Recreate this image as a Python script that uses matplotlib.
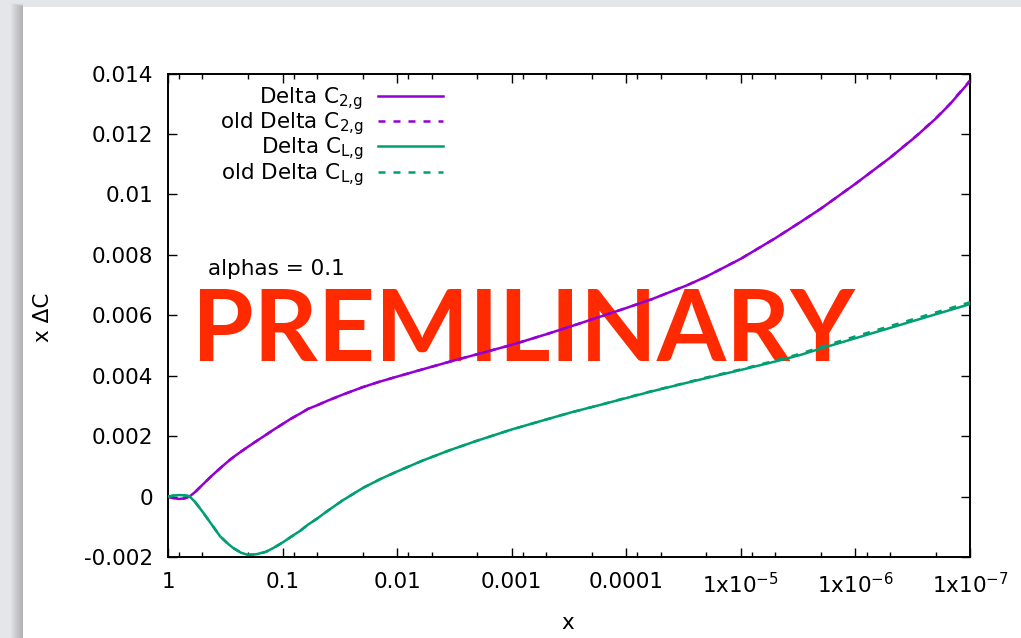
import numpy as np
import matplotlib
matplotlib.use('Agg')
import matplotlib.pyplot as plt
from matplotlib.patches import Rectangle
from matplotlib.ticker import FixedLocator, NullFormatter

# x values (log scale)
x = [1, 0.9, 0.8, 0.72, 0.65, 0.58, 0.5, 0.42, 0.35, 0.3, 0.27, 0.23, 0.2, 0.17, 0.14,
     0.12, 0.1, 0.085, 0.07, 0.06, 0.05, 0.04, 0.03, 0.02, 0.014, 0.01, 0.006, 0.0035,
     0.002, 0.001, 5e-4, 3e-4, 1.7e-4, 1e-4, 6e-5, 3e-5, 2e-5, 1e-5, 5e-6, 3e-6, 2e-6,
     1e-6, 5e-7, 3e-7, 2e-7, 1.5e-7, 1e-7]

dc2 = [0.0, -0.00005, -0.00008, -0.00006, 0.0, 0.00015, 0.00039, 0.00067, 0.00094, 0.00116,
       0.00130, 0.00149, 0.00165, 0.00183, 0.00204, 0.00221, 0.00240, 0.00257, 0.00275,
       0.00290, 0.00302, 0.00318, 0.00337, 0.00362, 0.00381, 0.00397, 0.00421, 0.00446,
       0.00471, 0.00502, 0.00537, 0.00564, 0.00595, 0.00624, 0.00653, 0.00698, 0.00728,
       0.00787, 0.00855, 0.00909, 0.00953, 0.01035, 0.01121, 0.01190, 0.01250, 0.01298, 0.01375]
dc2_old = [0.0, -0.00005, -0.00008, -0.00006, 0.0, 0.00015, 0.00039, 0.00067, 0.00094, 0.00116,
           0.00130, 0.00149, 0.00165, 0.00183, 0.00204, 0.00221, 0.00240, 0.00257, 0.00275,
           0.00290, 0.00302, 0.00318, 0.00337, 0.00362, 0.00381, 0.00397, 0.00421, 0.00446,
           0.00471, 0.00502, 0.00537, 0.00564, 0.00595, 0.00624, 0.00653, 0.00698, 0.00728,
           0.00787, 0.00855, 0.00909, 0.00953, 0.01035, 0.01121, 0.01191, 0.01251, 0.01299, 0.01377]

dcl = [0.0, 0.00003, 0.00005, 0.00004, 0.00001, -0.00018, -0.00050, -0.00090, -0.00132,
       -0.00156, -0.00170, -0.00186, -0.00193, -0.00191, -0.00183, -0.00170, -0.00152,
       -0.00134, -0.00113, -0.00093, -0.00073, -0.00046, -0.00013, 0.00028, 0.00058, 0.00083,
       0.00119, 0.00153, 0.00185, 0.00222, 0.00255, 0.00279, 0.00303, 0.00326, 0.00348,
       0.00376, 0.00392, 0.00419, 0.00447, 0.00469, 0.00490, 0.00524, 0.00558, 0.00583,
       0.00603, 0.00617, 0.00637]
dcl_old = [0.0, 0.00003, 0.00005, 0.00004, 0.00001, -0.00018, -0.00050, -0.00090, -0.00132,
           -0.00156, -0.00170, -0.00186, -0.00193, -0.00191, -0.00183, -0.00170, -0.00152,
           -0.00134, -0.00113, -0.00093, -0.00073, -0.00046, -0.00013, 0.00028, 0.00058, 0.00083,
           0.00119, 0.00153, 0.00185, 0.00222, 0.00255, 0.00279, 0.00303, 0.00327, 0.00349,
           0.00377, 0.00394, 0.00421, 0.00450, 0.00473, 0.00495, 0.00530, 0.00564, 0.00589,
           0.00609, 0.00623, 0.00643]

labels = ['Delta C$_{\\mathrm{2{,}g}}$', 'old Delta C$_{\\mathrm{2{,}g}}$',
          'Delta C$_{\\mathrm{L{,}g}}$', 'old Delta C$_{\\mathrm{L{,}g}}$']

xticks = [1, 0.1, 0.01, 0.001, 0.0001, 1e-5, 1e-6, 1e-7]
xticklabels = ['1', '0.1', '0.01', '0.001', '0.0001',
               '1x10$^{\\mathrm{-5}}$', '1x10$^{\\mathrm{-6}}$', '1x10$^{\\mathrm{-7}}$']
yticks = [-0.002, 0, 0.002, 0.004, 0.006, 0.008, 0.01, 0.012, 0.014]
yticklabels = ['-0.002', '0', '0.002', '0.004', '0.006', '0.008', '0.01', '0.012', '0.014']

W, H = 1021, 638
plt.rcParams['font.family'] = ['DejaVu Sans']
plt.rcParams['mathtext.fontset'] = 'dejavusans'
fs = 15.5

fig = plt.figure(figsize=(W / 100, H / 100), dpi=100, facecolor='#e5e6e9')

def fx(px):
    return px / W

def fy(py):
    return 1 - py / H

# slide background + shadow on its left edge
for k in range(1, 13):
    fig.patches.append(Rectangle((fx(23 - k), 0), fx(k), fy(7 - k * 0.3), transform=fig.transFigure,
                                 facecolor='#606060', edgecolor='none', alpha=0.035, zorder=-2))
fig.patches.append(Rectangle((fx(23), 0), 1, fy(7), transform=fig.transFigure,
                             facecolor='white', edgecolor='none', zorder=-1))

ax = fig.add_axes([fx(168), fy(557), fx(970 - 168), (557 - 73.5) / H])
ax.set_facecolor('none')

purple = '#9400d3'
green = '#009e73'
ax.plot(x, dc2, color=purple, lw=1.8, label=labels[0], zorder=3)
ax.plot(x, dc2_old, color=purple, lw=1.8, dashes=(2.8, 3.2), label=labels[1], zorder=3)
ax.plot(x, dcl, color=green, lw=1.8, label=labels[2], zorder=3)
ax.plot(x, dcl_old, color=green, lw=1.8, dashes=(2.8, 3.2), label=labels[3], zorder=3)

ax.set_xscale('log')
ax.set_xlim(1, 1e-7)
ax.set_ylim(-0.002, 0.014)
ax.xaxis.set_major_locator(FixedLocator(xticks))
ax.set_xticklabels(xticklabels)
minor = [m * 10.0 ** (-k) for k in range(1, 8) for m in (8, 5, 2)]
ax.xaxis.set_minor_locator(FixedLocator(minor))
ax.xaxis.set_minor_formatter(NullFormatter())
ax.set_yticks(yticks)
ax.set_yticklabels(yticklabels)

ax.tick_params(which='both', direction='in', top=True, right=True, width=1.0, labelsize=fs)
ax.tick_params(which='major', length=6.5)
ax.tick_params(which='minor', length=3.5)
ax.tick_params(axis='x', pad=11)
ax.tick_params(axis='y', pad=10.5)
for s in ax.spines.values():
    s.set_linewidth(1.4)

ax.legend(loc='upper right', bbox_to_anchor=(fx(443), fy(85)), bbox_transform=fig.transFigure,
          frameon=False, markerfirst=False, handlelength=3.0, handletextpad=0.7,
          labelspacing=-0.07, borderpad=0, borderaxespad=0, fontsize=fs)

ax.text(fx(208), fy(275), 'alphas = 0.1', transform=fig.transFigure, fontsize=fs,
        ha='left', va='baseline', zorder=2)
ax.text(fx(192), fy(361), 'PREMILINARY', transform=fig.transFigure, fontsize=71.7,
        family='Lato', weight='bold', color='#ff2a00', ha='left', va='baseline', zorder=1)

fig.text(fx(568), fy(629), 'x', fontsize=fs, ha='center', va='baseline')
fig.text(fx(43), fy(317), 'x \u0394C', fontsize=fs, rotation=90, ha='center', va='center')

fig.savefig('out.png', dpi=100, facecolor=fig.get_facecolor())
